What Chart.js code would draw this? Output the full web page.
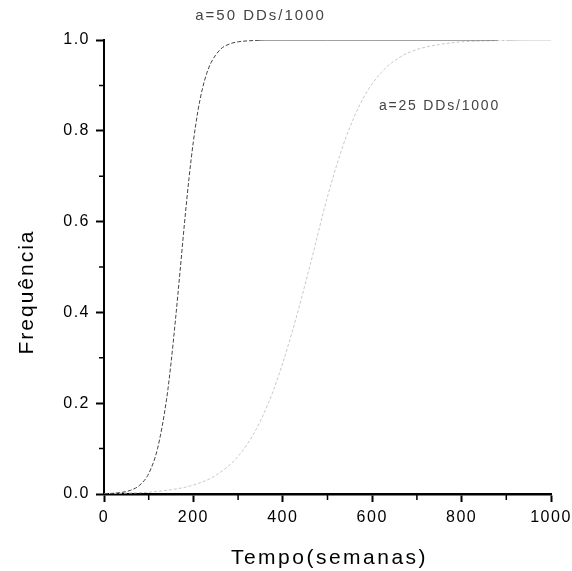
<!DOCTYPE html>
<html>
<head>
<meta charset="utf-8">
<style>
  html, body { margin: 0; padding: 0; background: #fff; }
  #wrap { width: 572px; height: 571px; }
</style>
<script src="https://cdn.jsdelivr.net/npm/chart.js@4"></script>
</head>
<body>
<div id="wrap"><canvas id="c" width="572" height="571"></canvas></div>
<script>
// ---- data ----
const weeksA50 = [0, 20, 40, 60, 80, 100, 120, 140, 150, 160, 170, 180, 190, 200, 210, 220, 230, 240, 260, 280, 300, 320, 340, 360, 400, 500, 600, 700, 800, 880];
const freqA50  = [0.0006, 0.0015, 0.0036, 0.0084, 0.0196, 0.045, 0.101, 0.209, 0.289, 0.385, 0.489, 0.596, 0.694, 0.777, 0.843, 0.892, 0.927, 0.951, 0.979, 0.991, 0.996, 0.998, 0.999, 1.0, 1.0, 1.0, 1.0, 1.0, 1.0, 1.0];

const weeksA25 = [0, 50, 100, 150, 200, 250, 300, 340, 380, 420, 460, 500, 540, 580, 620, 660, 700, 750, 800, 850, 900, 950, 1000];
const freqA25  = [0.001, 0.002, 0.004, 0.0094, 0.0198, 0.041, 0.083, 0.142, 0.231, 0.354, 0.500, 0.655, 0.782, 0.872, 0.928, 0.961, 0.979, 0.990, 0.996, 0.998, 0.999, 1.0, 1.0];

const seriesLabels = ["a=50 DDs/1000", "a=25 DDs/1000"];
const labelAnchors = [{x: 204, y: 1.053}, {x: 615, y: 0.855}];
const xTitle = "Tempo(semanas)";
const yTitle = "Frequência";
const xTickLabels = ["0", "200", "400", "600", "800", "1000"];
const yTickLabels = ["0.0", "0.2", "0.4", "0.6", "0.8", "1.0"];

const toPts = (xs, ys) => xs.map((x, i) => ({x: x, y: ys[i]}));
const dashSeg = (d) => (ctx) => (ctx.p0.parsed.y >= 0.999 && ctx.p1.parsed.y >= 0.999) ? [] : d;

const decor = {
  id: 'decor',
  beforeDraw(chart) {
    chart.ctx.letterSpacing = '1.5px';
  },
  afterDraw(chart) {
    const ctx = chart.ctx;
    const xs = chart.scales.x, ys = chart.scales.y;
    ctx.save();
    // minor ticks
    ctx.strokeStyle = '#000';
    ctx.lineWidth = 1.5;
    ctx.beginPath();
    for (let v = 100; v < 1000; v += 200) {
      const px = xs.getPixelForValue(v);
      ctx.moveTo(px, ys.bottom); ctx.lineTo(px, ys.bottom + 6);
    }
    for (let v = 0.1; v < 1.0; v += 0.2) {
      const py = ys.getPixelForValue(v);
      ctx.moveTo(xs.left, py); ctx.lineTo(xs.left - 5, py);
    }
    ctx.stroke();

    // series labels
    ctx.fillStyle = '#444';
    ctx.textBaseline = 'middle';
    ctx.textAlign = 'left';
    ctx.letterSpacing = '2px';
    ctx.font = '15px "Liberation Sans", Arial, sans-serif';
    ctx.fillText(seriesLabels[0], xs.getPixelForValue(labelAnchors[0].x), ys.getPixelForValue(labelAnchors[0].y));
    ctx.letterSpacing = '1.8px';
    ctx.font = '14px "Liberation Sans", Arial, sans-serif';
    ctx.fillText(seriesLabels[1], xs.getPixelForValue(labelAnchors[1].x), ys.getPixelForValue(labelAnchors[1].y));

    // axis titles
    ctx.fillStyle = '#000';
    ctx.font = '21px "Liberation Sans", Arial, sans-serif';
    ctx.letterSpacing = '2.5px';
    ctx.textAlign = 'center';
    ctx.textBaseline = 'alphabetic';
    ctx.fillText(xTitle, (xs.left + xs.right) / 2 + 2, 564);
    ctx.translate(33, (ys.top + ys.bottom) / 2 + 25);
    ctx.rotate(-Math.PI / 2);
    ctx.letterSpacing = '2px';
    ctx.fillText(yTitle, 0, 0);
    ctx.restore();
  }
};

new Chart(document.getElementById('c'), {
  type: 'line',
  data: {
    datasets: [
      {
        label: seriesLabels[0],
        data: toPts(weeksA50, freqA50),
        borderColor: '#444444',
        borderWidth: 1,
        borderDash: [4, 2],
        segment: { borderDash: dashSeg([4, 2]) },
        pointRadius: 0,
        cubicInterpolationMode: 'monotone',
        fill: false
      },
      {
        label: seriesLabels[1],
        data: toPts(weeksA25, freqA25),
        borderColor: '#c8c8c8',
        borderWidth: 1,
        borderDash: [3, 2],
        segment: { borderDash: dashSeg([3, 2]) },
        pointRadius: 0,
        cubicInterpolationMode: 'monotone',
        fill: false
      }
    ]
  },
  options: {
    responsive: false,
    animation: false,
    events: [],
    layout: { padding: { top: 40, right: 21, left: 0, bottom: 0 } },
    plugins: { legend: { display: false }, tooltip: { enabled: false } },
    scales: {
      x: {
        type: 'linear',
        min: 0, max: 1000,
        afterFit(s) { s.height = 77; s.paddingLeft = 0; s.paddingRight = 0; },
        afterBuildTicks(s) { s.ticks = xTickLabels.map(t => ({value: Number(t)})); },
        ticks: {
          callback: (v) => xTickLabels.find(t => Number(t) === v) ?? '',
          color: '#000',
          font: { size: 16, family: '"Liberation Sans", Arial, sans-serif' },
          padding: 6,
          maxRotation: 0,
          autoSkip: false
        },
        grid: { drawOnChartArea: false, drawTicks: true, tickLength: 8, tickWidth: 2, tickColor: '#000' },
        border: { display: true, color: '#000', width: 2.5 }
      },
      y: {
        type: 'linear',
        min: 0, max: 1.0,
        afterFit(s) { s.width = 104; s.paddingTop = 0; s.paddingBottom = 0; },
        afterBuildTicks(s) { s.ticks = yTickLabels.map(t => ({value: Number(t)})); },
        ticks: {
          callback: (v) => yTickLabels.find(t => Math.abs(Number(t) - v) < 1e-9) ?? '',
          color: '#000',
          font: { size: 16, family: '"Liberation Sans", Arial, sans-serif' },
          padding: 6,
          autoSkip: false
        },
        grid: { drawOnChartArea: false, drawTicks: true, tickLength: 8, tickWidth: 2, tickColor: '#000' },
        border: { display: true, color: '#000', width: 2 }
      }
    }
  },
  plugins: [decor]
});
</script>
</body>
</html>
